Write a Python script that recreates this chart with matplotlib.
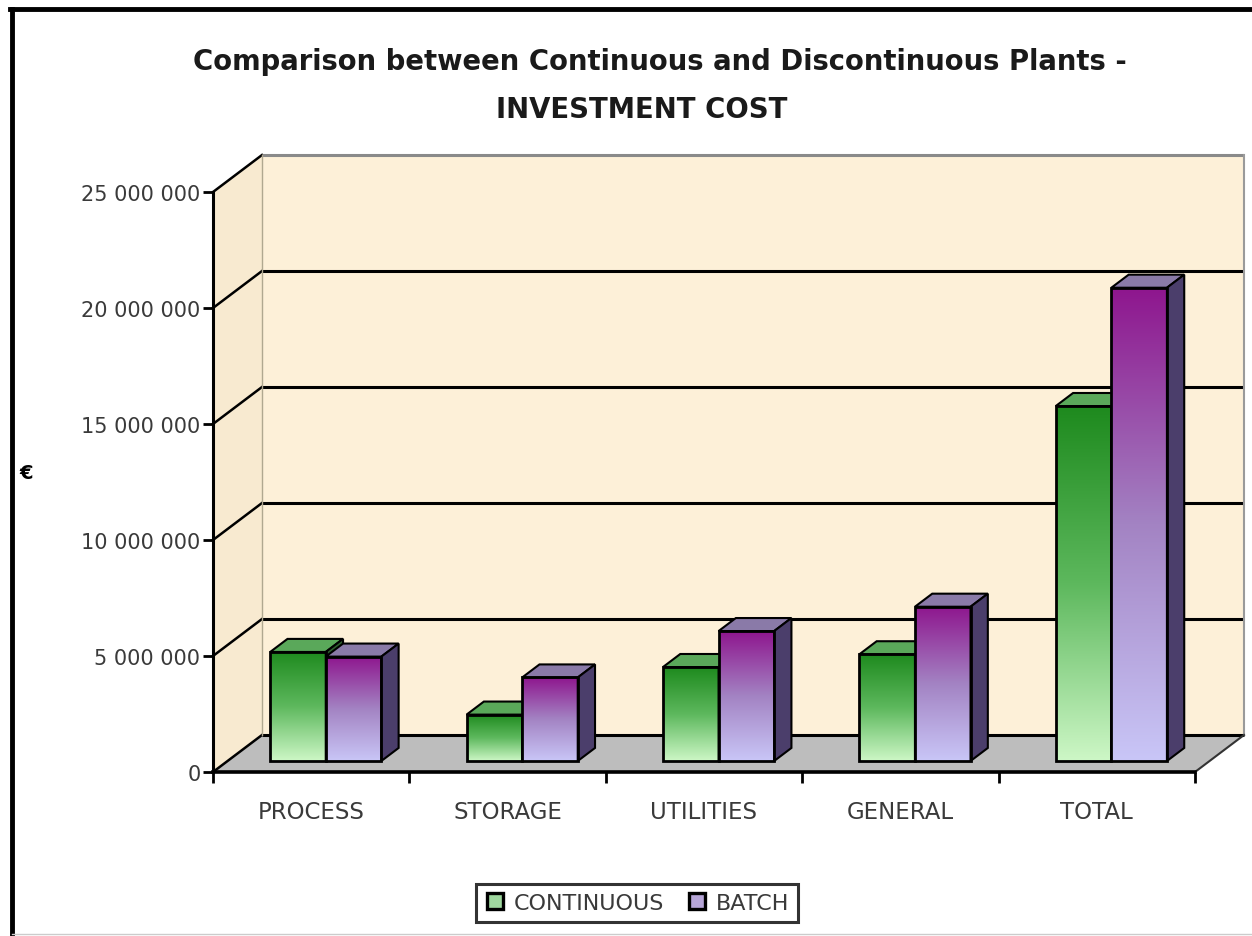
import numpy as np
import matplotlib
matplotlib.use("Agg")
import matplotlib.pyplot as plt
from matplotlib.colors import to_rgb
from matplotlib.lines import Line2D
from matplotlib.patches import Rectangle, Polygon

# datos
categories = ["PROCESS", "STORAGE", "UTILITIES", "GENERAL", "TOTAL"]
continuous = [4.7e6, 2.0e6, 4.05e6, 4.6e6, 15.3e6]
batch = [4.5e6, 3.6e6, 5.6e6, 6.65e6, 20.4e6]
yticks = [0, 5e6, 10e6, 15e6, 20e6, 25e6]
series_names = ["CONTINUOUS", "BATCH"]

plt.rcParams['font.family'] = ['DejaVu Sans']

W, H = 1252, 937
fig = plt.figure(figsize=(W / 100, H / 100), dpi=100)
fig.patch.set_facecolor("white")

# caja del plano frontal (pixeles -> fraccion)
x0p, x1p, y0p, y1p = 213, 1195, 773, 193
ax = fig.add_axes([x0p / W, 1 - y0p / H, (x1p - x0p) / W, (y0p - y1p) / H])
ax.set_xlim(0, len(categories))
ax.set_ylim(0, 25e6)
ax.patch.set_alpha(0)

# profundidad oblicua en unidades de datos
DX = 49 / 196.4
DY = 37 / 23.2 * 1e6
n = len(categories)
ytop = yticks[-1]

wall_c = "#FDF0D8"
side_c = "#F8EAD0"
floor_c = "#BDBDBD"

# pared del fondo, pared lateral y suelo
ax.add_patch(Polygon([(DX, DY), (n + DX, DY), (n + DX, ytop + DY), (DX, ytop + DY)],
                     closed=True, facecolor=wall_c, edgecolor="none", zorder=0, clip_on=False))
ax.add_patch(Polygon([(0, 0), (DX, DY), (DX, ytop + DY), (0, ytop)],
                     closed=True, facecolor=side_c, edgecolor="none", zorder=0, clip_on=False))
ax.add_patch(Polygon([(0, 0), (n, 0), (n + DX, DY), (DX, DY)],
                     closed=True, facecolor=floor_c, edgecolor="none", zorder=0.5, clip_on=False))

# lineas de rejilla
for v in yticks:
    ax.plot([0, DX], [v, v + DY], color="black", lw=1.8, zorder=1, clip_on=False)
    col = "#8a8a8a" if v == ytop else "black"
    ax.plot([DX, n + DX], [v + DY, v + DY], color=col, lw=2.2,
            zorder=1, clip_on=False, solid_capstyle="butt")
ax.plot([n + DX, n + DX], [DY, ytop + DY], color="#9a9a9a", lw=1.5, zorder=1, clip_on=False)
ax.plot([DX, DX], [DY, ytop + DY], color="#b0a890", lw=1.0, zorder=1, clip_on=False)
ax.plot([n, n + DX], [0, DY], color="#333333", lw=1.5, zorder=1, clip_on=False)


def gradient(c_top, c_mid, c_bot, npts=200):
    t = np.linspace(0, 1, npts)[:, None]
    a, b, c = (np.array(to_rgb(k)) for k in (c_top, c_mid, c_bot))
    first = a + (b - a) * np.clip(t * 2, 0, 1)
    second = b + (c - b) * np.clip(t * 2 - 1, 0, 1)
    g = np.where(t < 0.5, first, second)
    return g[:, None, :]


grad_cont = gradient("#1E8A1E", "#5DB85D", "#CDF7C6")
grad_batch = gradient("#8E168E", "#A383C3", "#C9C6F7")
top_cont, side_cont = "#5AA85A", "#2F5F2F"
top_batch, side_batch = "#8A7AA8", "#4B3E6B"

bw = 0.283
f0, f1 = 0.297, 0.65
ox0, oy0 = f0 * DX, f0 * DY
ddx, ddy = (f1 - f0) * DX, (f1 - f0) * DY


def draw_bar(xl, val, grad, topc, sidec, z):
    xa = xl + ox0
    xb = xa + bw
    yb = oy0
    yt = oy0 + val
    ax.imshow(grad, extent=[xa, xb, yb, yt], origin="upper", aspect="auto",
              interpolation="bilinear", zorder=z)
    ax.add_patch(Rectangle((xa, yb), bw, val, facecolor="none", edgecolor="black",
                           lw=2.0, zorder=z + 0.1))
    ax.add_patch(Polygon([(xa, yt), (xb, yt), (xb + ddx, yt + ddy), (xa + ddx, yt + ddy)],
                         closed=True, facecolor=topc, edgecolor="black", lw=1.5, zorder=z + 0.05))
    ax.add_patch(Polygon([(xb, yb), (xb + ddx, yb + ddy), (xb + ddx, yt + ddy), (xb, yt)],
                         closed=True, facecolor=sidec, edgecolor="black", lw=1.5, zorder=z + 0.05))


for i in range(n):
    c = i + 0.5
    draw_bar(c - bw, continuous[i], grad_cont, top_cont, side_cont, 2 + i)
    draw_bar(c, batch[i], grad_batch, top_batch, side_batch, 2.5 + i)

ax.set_xlim(0, n)
ax.set_ylim(0, ytop)

# ejes
for s in ["top", "right"]:
    ax.spines[s].set_visible(False)
ax.spines["left"].set_linewidth(2.2)
ax.spines["bottom"].set_linewidth(2.6)
ax.spines["left"].set_zorder(20)
ax.spines["bottom"].set_zorder(20)

ax.set_yticks(yticks)
ax.set_yticklabels([f"{int(v):,}".replace(",", " ") for v in yticks])
ax.tick_params(axis="y", direction="out", length=7, width=2, labelsize=15,
               labelcolor="#3a3a3a", pad=2)
ax.set_xticks(np.arange(n) + 0.5)
ax.set_xticklabels(categories)
ax.set_xticks(np.arange(n + 1), minor=True)
ax.tick_params(axis="x", which="major", length=0, labelsize=16.5, labelcolor="#3a3a3a", pad=20)
ax.tick_params(axis="x", which="minor", direction="out", length=8, width=2)
ax.set_ylabel("€", rotation=0, fontsize=14, fontweight="bold", labelpad=0)
ax.yaxis.set_label_coords(-0.19, 0.5)

# titulo
fig.text(660 / W, 1 - 62 / H, "Comparison between Continuous and Discontinuous Plants -",
         ha="center", va="center", fontsize=19.8, fontweight="bold", color="#1a1a1a")
fig.text(642 / W, 1 - 110 / H, "INVESTMENT COST", ha="center", va="center",
         fontsize=19.8, fontweight="bold", color="#1a1a1a")

# leyenda
handles = [Line2D([], [], marker="s", linestyle="none", markersize=11,
                  markerfacecolor=col, markeredgecolor="black", markeredgewidth=2.4)
           for col in ("#9fd89f", "#b7a6d8")]
leg = fig.legend(handles, series_names, loc="center", bbox_to_anchor=(637 / W, 1 - 904 / H),
                 ncol=2, frameon=True, fontsize=16, handlelength=0.9, handletextpad=0.4,
                 columnspacing=1.0, borderpad=0.4, fancybox=False)
leg.get_frame().set_edgecolor("black")
leg.get_frame().set_linewidth(2.2)
for t in leg.get_texts():
    t.set_color("#3a3a3a")

# marco exterior
fig.add_artist(Line2D([12 / W, 12 / W], [0, 1 - 10 / H], color="black", lw=3.5))
fig.add_artist(Line2D([10 / W, 1], [1 - 10 / H, 1 - 10 / H], color="black", lw=3.5))
fig.add_artist(Line2D([12 / W, 1], [1 - 935 / H, 1 - 935 / H], color="#cccccc", lw=1))

fig.savefig("out.png", dpi=100)
